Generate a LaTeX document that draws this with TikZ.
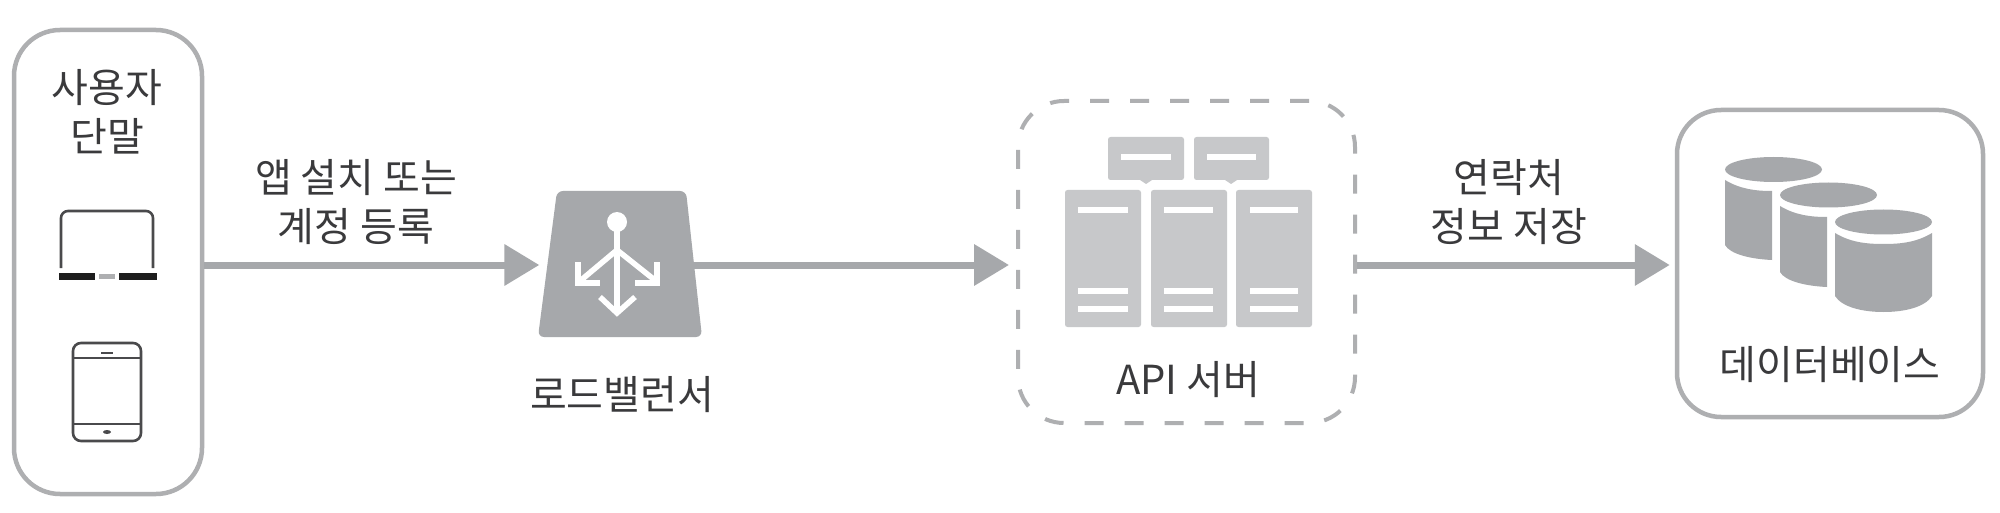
\documentclass[tikz,border=0pt]{standalone}
\usepackage{fontspec}
\setmainfont{Noto Sans CJK KR}
\usetikzlibrary{arrows.meta,calc}
\definecolor{edgegray}{HTML}{AEAFB1}
\definecolor{flowgray}{HTML}{A6A8AB}
\definecolor{srvgray}{HTML}{C7C8CA}
\definecolor{inkgray}{HTML}{3A3A3C}
\definecolor{devgray}{HTML}{4A4A4C}
\tikzset{
  lbl/.style={text=inkgray,font=\fontsize{40}{49}\selectfont,align=center,inner sep=0pt},
  panel/.style={draw=edgegray,line width=4.5pt,rounded corners=46pt,fill=white,inner sep=0pt},
  flow/.style={draw=flowgray,line width=7pt,-{Triangle[length=35pt,width=40pt,color=flowgray]}},
  barw/.style={draw=white,line width=5.5pt},
  srv/.style={fill=srvgray,rounded corners=2.5pt},
  dev/.style={draw=devgray,line width=2.6pt},
  lbw/.style={draw=white,line width=5.5pt},
  dbf/.style={fill=flowgray}
}
\begin{document}
\begin{tikzpicture}[x=1pt,y=-1pt]
\useasboundingbox (0,0) rectangle (2000,513);
\fill[white] (0,0) rectangle (2000,513);
% panels
\node[panel,minimum width=188pt,minimum height=464pt] (user) at (108,262) {};
\node[panel,dashed,dash pattern=on 19pt off 21pt,line width=4pt,minimum width=337pt,minimum height=322pt] (api) at (1186.5,262) {};
\node[panel,minimum width=306pt,minimum height=307pt,rounded corners=44pt] (db) at (1830,263.5) {};
% load balancer
\node[minimum width=146pt,minimum height=146pt,inner sep=0pt] (lb) at (620.5,265) {};
\fill[flowgray,rounded corners=6pt] (557,191) -- (686,191) -- (702,337) -- (538,337) -- cycle;
\draw[lbw] (617,222) -- (617,313);
\fill[white] (617,222) circle (10pt);
\draw[lbw,line join=miter] (600,297) -- (617,313) -- (635,297);
\draw[lbw] (617,250) -- (580,281);
\draw[lbw] (617,250) -- (656,281);
\draw[lbw,line join=miter] (578,262) -- (578,283) -- (600,283);
\draw[lbw,line join=miter] (657,262) -- (657,283) -- (635,283);
% connectors
\draw[flow,shorten >=8pt] (user.east |- lb.center) -- (lb.west);
\draw[flow,shorten >=7pt] (lb.east) -- (api.west |- lb.center);
\draw[flow,shorten >=5pt] (api.east |- lb.center) -- (db.west |- lb.center);
% laptop
\draw[dev,rounded corners=7pt] (61,268) -- (61,211) -- (153,211) -- (153,268);
\draw[devgray!40!black,line width=7pt] (59,276) -- (95,276);
\draw[devgray!40!black,line width=7pt] (119,276) -- (157,276);
\draw[edgegray,line width=5pt] (99,276) -- (115,276);
% tablet
\draw[dev,rounded corners=8pt] (73,343) rectangle (141,441);
\draw[dev,line width=1.6pt] (73,358) -- (141,358);
\draw[dev,line width=1.6pt] (73,424) -- (141,424);
\draw[dev,line width=1.5pt] (101,353) -- (113,353);
\fill[devgray] (107,432) ellipse (4pt and 2pt);
% servers
\fill[srv] (1108,137) rectangle (1184,180);
\fill[srv] (1194,137) rectangle (1269,180);
\fill[srvgray] (1140,180) -- (1146,184) -- (1152,180) -- cycle;
\fill[srvgray] (1225,180) -- (1231,184) -- (1237,180) -- cycle;
\fill[srv] (1065,190) rectangle (1141,327);
\fill[srv] (1151,190) rectangle (1227,327);
\fill[srv] (1236,190) rectangle (1312,327);
\draw[barw] (1121,157) -- (1171,157);
\draw[barw] (1207,157) -- (1256,157);
\foreach \xa/\xb in {1078/1128,1164/1213,1250/1298}{
  \draw[barw] (\xa,210) -- (\xb,210);
  \draw[barw] (\xa,291) -- (\xb,291);
  \draw[barw] (\xa,309) -- (\xb,309);
}
% cylinders
\fill[dbf] (1773.5,169.5) ellipse (48.5pt and 12.5pt);
\fill[dbf] (1725,180) .. controls (1740,189) and (1755,191) .. (1772,191) -- (1772,260) .. controls (1750,259) and (1730,254) .. (1725,245) -- cycle;
\fill[dbf] (1828.5,195) ellipse (48.5pt and 12.5pt);
\fill[dbf] (1780,206) .. controls (1795,215) and (1810,217) .. (1827,217) -- (1827,287) .. controls (1805,286) and (1785,281) .. (1780,272) -- cycle;
\fill[dbf] (1883.5,222) ellipse (48.5pt and 12.5pt);
\fill[dbf] (1835,233) .. controls (1850,242) and (1865,244) .. (1883.5,244) .. controls (1902,244) and (1917,242) .. (1932,233) -- (1932,296) .. controls (1925,307) and (1905,312) .. (1883.5,312) .. controls (1862,312) and (1842,307) .. (1835,296) -- cycle;
% labels
\node[lbl] (tuser) at (107,112) {사용자\\단말};
\node[lbl] (tflow1) at (356,202) {앱 설치 또는\\계정 등록};
\node[lbl] (tlb) at (622,395) {로드밸런서};
\node[lbl] (tapi) at (1188,380) {API 서버};
\node[lbl] (tflow2) at (1509,202) {연락처\\정보 저장};
\node[lbl] (tdb) at (1830,365) {데이터베이스};
\end{tikzpicture}
\end{document}
